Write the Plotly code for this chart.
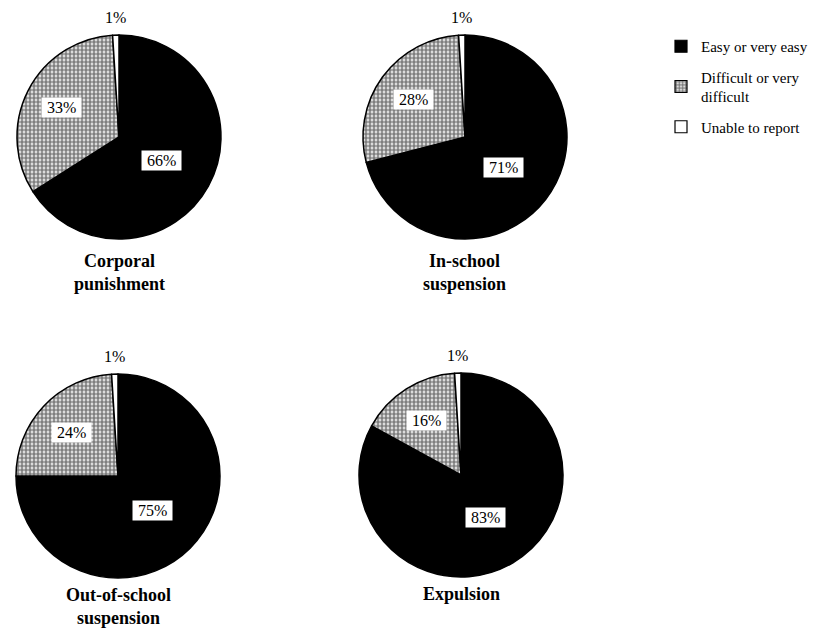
import math
import plotly.graph_objects as go

# Survey responses: how easy it is to administer each disciplinary action
categories = ["Easy or very easy", "Difficult or very<br>difficult", "Unable to report"]
actions = ["Corporal<br>punishment", "In-school<br>suspension",
           "Out-of-school<br>suspension", "Expulsion"]
easy = [66, 71, 75, 83]
difficult = [33, 28, 24, 16]
unable = [1, 1, 1, 1]

W, H = 832, 631
FONT = "Liberation Serif, Times New Roman, serif"

# pie centres (px from top-left), radius and caption gap below each pie
centers = [(119, 137), (465, 137), (118, 476), (461, 475)]
caption_gap = [10, 10, 5, 5]
R = 102

colors = ["black", "white", "white"]
patterns = ["", ".", ""]
PATTERN = dict(fgcolor="black", bgcolor="white", size=4, solidity=0.7,
               fillmode="overlay")

fig = go.Figure()
annotations = []


def to_paper(px, py):
    return px / W, 1 - py / H


for i, (cx, cy) in enumerate(centers):
    vals = [easy[i], difficult[i], unable[i]]
    x0, y1 = to_paper(cx - R, cy - R)
    x1, y0 = to_paper(cx + R, cy + R)
    fig.add_trace(go.Pie(
        labels=categories,
        values=vals,
        sort=False,
        direction="clockwise",
        rotation=0,
        textinfo="none",
        hoverinfo="label+percent",
        domain=dict(x=[x0, x1], y=[y0, y1]),
        marker=dict(
            colors=colors,
            line=dict(color="black", width=1.5),
            pattern=dict(shape=patterns, **PATTERN),
        ),
        showlegend=False,
    ))

    # value labels placed at slice mid-angles
    total = sum(vals)
    start = 0.0
    radial = [0.48, 0.63, 1.17]
    for k, v in enumerate(vals):
        mid = (start + v / 2) / total * 2 * math.pi
        start += v
        rr = radial[k] * R
        lx = cx + rr * math.sin(mid)
        ly = cy - rr * math.cos(mid)
        ax, ay = to_paper(lx, ly)
        boxed = k < 2
        annotations.append(dict(
            x=ax, y=ay, xref="paper", yref="paper", showarrow=False,
            text=f"&nbsp;{v}%&nbsp;" if boxed else f"{v}%",
            font=dict(family=FONT, size=16, color="black"),
            bgcolor="white" if boxed else "rgba(0,0,0,0)",
            borderpad=1, xanchor="center", yanchor="middle",
        ))

    # pie caption
    tx, ty = to_paper(cx, cy + R + caption_gap[i])
    annotations.append(dict(
        x=tx, y=ty, xref="paper", yref="paper", showarrow=False,
        text=f"<b>{actions[i]}</b>", font=dict(family=FONT, size=18, color="black"),
        xanchor="center", yanchor="top", align="center",
    ))

# legend key entries, one group each so they can be spaced apart
for k, name in enumerate(categories):
    fig.add_trace(go.Bar(
        x=[None], y=[None], name=name, legendgroup=name,
        marker=dict(color=colors[k], line=dict(color="black", width=1.2),
                    pattern=dict(shape=patterns[k], **PATTERN)),
        hoverinfo="skip",
    ))

fig.update_layout(
    width=W, height=H,
    margin=dict(l=0, r=0, t=0, b=0),
    paper_bgcolor="white",
    plot_bgcolor="white",
    annotations=annotations,
    xaxis=dict(visible=False),
    yaxis=dict(visible=False),
    showlegend=True,
    legend=dict(
        x=661 / W, y=1 - 30 / H, xanchor="left", yanchor="top",
        font=dict(family=FONT, size=15, color="black"),
        bgcolor="rgba(0,0,0,0)", traceorder="grouped", tracegroupgap=8,
    ),
)

fig.write_html("out.html")
